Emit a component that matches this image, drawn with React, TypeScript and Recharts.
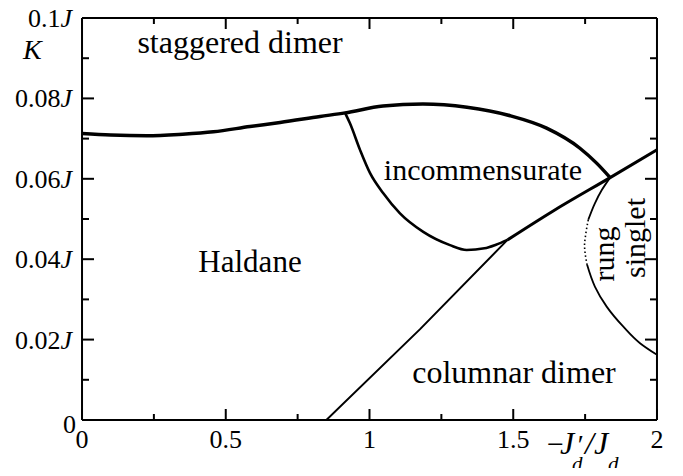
import React from 'react';
import { LineChart, Line, XAxis, YAxis } from 'recharts';

// tick positions
const xMajor = [0, 0.5, 1, 1.5, 2];
const xMinor = [0.25, 0.75, 1.25, 1.75];
const yMajor = [0, 0.02, 0.04, 0.06, 0.08, 0.1];
const yMinor = [0.01, 0.03, 0.05, 0.07, 0.09];
const xLabels = ['0', '0.5', '1', '1.5', '2'];
const yLabels = ['0', '0.02', '0.04', '0.06', '0.08', '0.1'];

// phase boundaries, [-Jd'/Jd, K/J]
const staggeredLine: [number, number][] = [
  [0, 0.0713], [0.1, 0.0709], [0.225, 0.0707], [0.35, 0.0711], [0.457, 0.0717],
  [0.584, 0.073], [0.689, 0.074], [0.828, 0.0755], [0.915, 0.0764], [1.047, 0.0781],
  [1.186, 0.0786], [1.339, 0.0778], [1.489, 0.0757], [1.616, 0.0726], [1.732, 0.0676],
  [1.79, 0.0639], [1.837, 0.0603],
];
const incommLower: [number, number][] = [
  [0.915, 0.0764], [0.932, 0.0738], [0.967, 0.0672], [1.002, 0.0614], [1.048, 0.0564],
  [1.106, 0.0514], [1.187, 0.0468], [1.28, 0.0435], [1.338, 0.0423], [1.4, 0.0427],
  [1.44, 0.0436], [1.48, 0.0448],
];
const columnarLow: [number, number][] = [
  [0.85, 0], [1.176, 0.0226], [1.48, 0.0448],
];
const columnarHigh: [number, number][] = [
  [1.48, 0.0448], [1.639, 0.052], [1.837, 0.0603], [2, 0.0672],
];
const rungTop: [number, number][] = [
  [1.837, 0.0603], [1.808, 0.0572], [1.784, 0.0539], [1.761, 0.0498],
];
const rungDotted: [number, number][] = [
  [1.761, 0.0498], [1.751, 0.0456], [1.748, 0.0435], [1.75, 0.0415], [1.757, 0.0386],
];
const rungBottom: [number, number][] = [
  [1.757, 0.0386], [1.784, 0.0332], [1.825, 0.0282], [1.883, 0.0232], [1.941, 0.0191],
  [2, 0.0162],
];

const toPts = (arr: [number, number][]) => arr.map(([x, y]) => ({ x, y }));

const serif = '"Liberation Serif", "DejaVu Serif", serif';
const ink = { stroke: '#000', strokeWidth: 2 };
const thin = 0.01; // axes take (almost) no room, the margin holds the labels

const Empty = () => <g />;

const XTick = (props: any) => {
  const { x, y, payload } = props;
  const i = xMajor.indexOf(payload.value);
  return (
    <text x={x} y={y} textAnchor="middle" fontFamily={serif} fontSize={26} fill="#000">
      {xLabels[i]}
    </text>
  );
};

const YTick = (props: any) => {
  const { x, y, payload } = props;
  const i = yMajor.indexOf(payload.value);
  if (payload.value === 0) {
    return (
      <text x={x + 4} y={y + 13} textAnchor="end" fontFamily={serif} fontSize={26} fill="#000">
        0
      </text>
    );
  }
  return (
    <text x={x} y={y + 9} textAnchor="end" fontFamily={serif} fontSize={26} fill="#000">
      {yLabels[i]}
      <tspan fontStyle="italic">J</tspan>
    </text>
  );
};

export default function App() {
  const w = 667;
  const h = 460;
  return (
    <div style={{ position: 'relative', width: w, height: h }}>
      <LineChart width={w} height={h} margin={{ top: 10, right: 18, bottom: 48, left: 74 }}>
        <XAxis xAxisId="b" dataKey="x" type="number" domain={[0, 2]} allowDataOverflow
          orientation="bottom" height={thin} ticks={xMajor} interval={0} tickSize={-11}
          tickMargin={39} axisLine={ink} tickLine={ink} tick={<XTick />} />
        <XAxis xAxisId="bm" dataKey="x" type="number" domain={[0, 2]} allowDataOverflow
          orientation="bottom" height={thin} ticks={xMinor} interval={0} tickSize={-6}
          axisLine={false} tickLine={ink} tick={<Empty />} />
        <XAxis xAxisId="t" dataKey="x" type="number" domain={[0, 2]} allowDataOverflow
          orientation="top" height={thin} ticks={xMajor} interval={0} tickSize={-11}
          axisLine={ink} tickLine={ink} tick={<Empty />} />
        <XAxis xAxisId="tm" dataKey="x" type="number" domain={[0, 2]} allowDataOverflow
          orientation="top" height={thin} ticks={xMinor} interval={0} tickSize={-6}
          axisLine={false} tickLine={ink} tick={<Empty />} />
        <YAxis yAxisId="l" type="number" domain={[0, 0.1]} allowDataOverflow
          orientation="left" width={thin} ticks={yMajor} interval={0} tickSize={-12}
          tickMargin={22} axisLine={ink} tickLine={ink} tick={<YTick />} />
        <YAxis yAxisId="lm" type="number" domain={[0, 0.1]} allowDataOverflow
          orientation="left" width={thin} ticks={yMinor} interval={0} tickSize={-7}
          axisLine={false} tickLine={ink} tick={<Empty />} />
        <YAxis yAxisId="r" type="number" domain={[0, 0.1]} allowDataOverflow
          orientation="right" width={thin} ticks={yMajor} interval={0} tickSize={-12}
          axisLine={ink} tickLine={ink} tick={<Empty />} />
        <YAxis yAxisId="rm" type="number" domain={[0, 0.1]} allowDataOverflow
          orientation="right" width={thin} ticks={yMinor} interval={0} tickSize={-7}
          axisLine={false} tickLine={ink} tick={<Empty />} />

        <Line xAxisId="b" yAxisId="l" data={toPts(staggeredLine)} dataKey="y" type="monotone"
          stroke="#000" strokeWidth={3.5} dot={false} isAnimationActive={false} />
        <Line xAxisId="b" yAxisId="l" data={toPts(incommLower)} dataKey="y" type="monotone"
          stroke="#000" strokeWidth={2.6} dot={false} isAnimationActive={false} />
        <Line xAxisId="b" yAxisId="l" data={toPts(columnarLow)} dataKey="y" type="linear"
          stroke="#000" strokeWidth={2} dot={false} isAnimationActive={false} />
        <Line xAxisId="b" yAxisId="l" data={toPts(columnarHigh)} dataKey="y" type="monotone"
          stroke="#000" strokeWidth={3} dot={false} isAnimationActive={false} />
        <Line xAxisId="b" yAxisId="l" data={toPts(rungTop)} dataKey="y" type="monotoneY"
          stroke="#000" strokeWidth={1.8} dot={false} isAnimationActive={false} />
        <Line xAxisId="b" yAxisId="l" data={toPts(rungDotted)} dataKey="y" type="monotoneY"
          stroke="#000" strokeWidth={1.6} strokeDasharray="1.5 2.5" dot={false}
          isAnimationActive={false} />
        <Line xAxisId="b" yAxisId="l" data={toPts(rungBottom)} dataKey="y" type="monotoneY"
          stroke="#000" strokeWidth={1.8} dot={false} isAnimationActive={false} />
      </LineChart>

      <svg width={w} height={h}
        style={{ position: 'absolute', left: 0, top: 0, pointerEvents: 'none', overflow: 'visible' }}
        fontFamily={serif} fill="#000">
        <text x={232} y={45} fontSize={32} textAnchor="middle">staggered dimer</text>
        <text x={242} y={264} fontSize={31} textAnchor="middle">Haldane</text>
        <text x={475} y={172} fontSize={30} textAnchor="middle">incommensurate</text>
        <text x={506} y={375} fontSize={32} textAnchor="middle">columnar dimer</text>
        <text x={606} y={246} fontSize={30} textAnchor="middle" transform="rotate(-90 606 246)">rung</text>
        <text x={637} y={230} fontSize={30} textAnchor="middle" transform="rotate(-90 637 230)">singlet</text>
        <text x={15} y={51} fontSize={28} fontStyle="italic">K</text>
        <text fontSize={32} fontStyle="italic">
          <tspan x={539} y={446} fontStyle="normal" fontSize={30}>−</tspan>
          <tspan x={552} y={446}>J</tspan>
          <tspan x={568} y={446} fontSize={28}>′</tspan>
          <tspan x={564} y={463} fontSize={21}>d</tspan>
          <tspan x={577} y={446}>/J</tspan>
          <tspan x={600} y={463} fontSize={21}>d</tspan>
        </text>
      </svg>
    </div>
  );
}
